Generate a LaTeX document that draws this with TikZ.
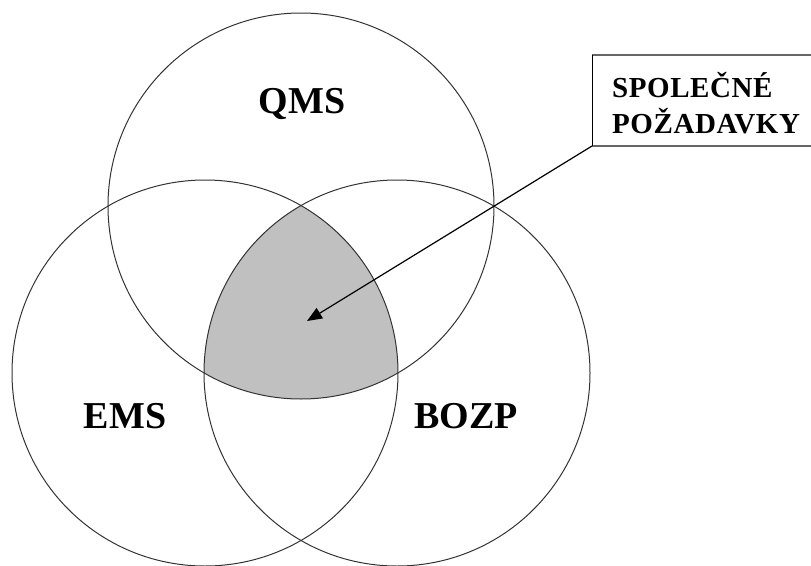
\documentclass[tikz,border=0pt]{standalone}
\usepackage{fontspec}
\setmainfont{Liberation Serif}
\usetikzlibrary{arrows.meta}
\definecolor{common}{RGB}{192,192,192}
\begin{document}
\begin{tikzpicture}[x=1pt,y=-1pt,
  ring/.style={draw=black!80,line width=1pt},
  setlabel/.style={font=\fontsize{38}{40}\selectfont\bfseries,inner sep=0pt,anchor=base},
  boxtext/.style={font=\fontsize{29}{35}\selectfont\bfseries\addfontfeatures{LetterSpace=2},inner sep=0pt,anchor=base west},
  boxedge/.style={draw=black!60,line width=1.4pt},
  pointer/.style={draw=black,line width=1.2pt,-{Triangle[length=15pt,width=12pt]}}
]
\useasboundingbox (0,0) rectangle (811,565);

% circle centres
\coordinate (cq) at (301,206);
\coordinate (ce) at (205,373);
\coordinate (cb) at (397,373);

% shaded common part of all three sets
\begin{scope}
  \clip (cq) circle[radius=193pt];
  \clip (ce) circle[radius=193pt];
  \fill[common] (cb) circle[radius=193pt];
\end{scope}

% the three sets
\draw[ring] (cq) circle[radius=193pt];
\draw[ring] (ce) circle[radius=193pt];
\draw[ring] (cb) circle[radius=193pt];

% set names
\node[setlabel] (qms)  at (302,113) {QMS};
\node[setlabel] (ems)  at (125,428) {EMS};
\node[setlabel] (bozp) at (466,428) {BOZP};

% callout box, open to the right
\coordinate (boxtl) at (592,55);
\coordinate (boxbl) at (592,146);
\draw[boxedge] (boxtl) -- (815,55);
\draw[boxedge] (boxbl) -- (815,146);
\draw[draw=black,line width=0.9pt] (boxtl) -- (boxbl);
\node[boxtext] (req1) at (612,97) {SPOLEČNÉ};
\node[boxtext] (req2) at (612,133) {POŽADAVKY};

% pointer into the shaded region
\coordinate (tip) at (307,321);
\draw[pointer] (boxbl) -- (tip);
\end{tikzpicture}
\end{document}
